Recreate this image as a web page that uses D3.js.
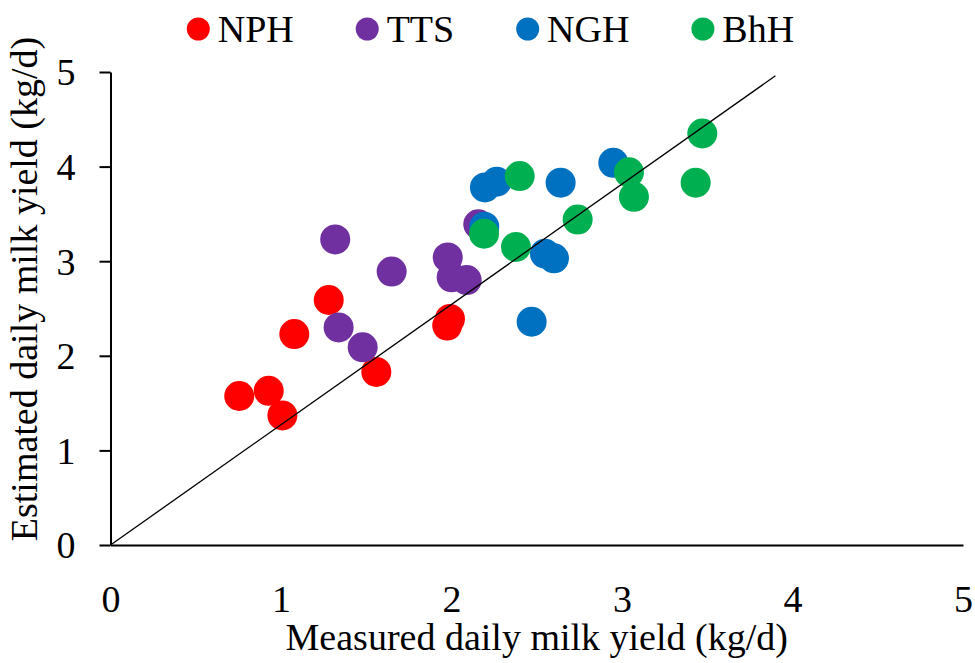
<!DOCTYPE html>
<html>
<head>
<meta charset="utf-8">
<script src="https://cdn.jsdelivr.net/npm/d3@7"></script>
<style>
  body { margin: 0; background: #fff; }
  text { font-family: "Liberation Serif", "Times New Roman", serif; fill: #000; }
</style>
</head>
<body>
<svg id="chart" width="975" height="663"></svg>
<script>
"use strict";

// groups and colours
const groups = ["NPH", "TTS", "NGH", "BhH"];
const colors = ["#FF0000", "#7030A0", "#0070C0", "#00B050"];

// measured (x) and estimated (y) milk yield, kg/d
const nphX = [0.755, 0.928, 1.008, 1.078, 1.280, 1.559, 1.991, 1.975];
const nphY = [1.575, 1.63, 1.37, 2.23, 2.59, 1.83, 2.39, 2.32];
const ttsX = [1.318, 1.649, 1.338, 1.479, 1.978, 2.001, 2.089, 2.157];
const ttsY = [3.23, 2.89, 2.30, 2.09, 3.04, 2.83, 2.80, 3.39];
const nghX = [2.192, 2.196, 2.265, 2.640, 2.949, 2.548, 2.601, 2.470];
const nghY = [3.365, 3.78, 3.84, 3.83, 4.04, 3.08, 3.03, 2.36];
const bhhX = [2.191, 2.400, 2.378, 2.740, 3.041, 3.070, 3.432, 3.471];
const bhhY = [3.29, 3.90, 3.15, 3.44, 3.94, 3.68, 3.83, 4.35];

// reference line end points
const lineX = [0, 3.9];
const lineY = [0, 4.96];

const xTicks = [0, 1, 2, 3, 4, 5];
const yTicks = [0, 1, 2, 3, 4, 5];

const seriesX = [nphX, ttsX, nghX, bhhX];
const seriesY = [nphY, ttsY, nghY, bhhY];

const margin = {top: 72, right: 12, bottom: 118, left: 110.5};
const width = 975 - margin.left - margin.right;   // 852.5
const height = 663 - margin.top - margin.bottom;  // 473

const svg = d3.select("#chart");
const g = svg.append("g")
    .attr("transform", "translate(" + margin.left + "," + margin.top + ")");

const xScale = d3.scaleLinear().domain([0, 5]).range([0, width]);
const yScale = d3.scaleLinear().domain([0, 5]).range([height, 0]);

// x axis: line only, no tick marks
const xAxis = g.append("g")
    .attr("transform", "translate(0," + height + ")")
    .call(d3.axisBottom(xScale).tickValues(xTicks).tickSize(0).tickPadding(40).tickFormat(d3.format("d")));
xAxis.select(".domain").attr("stroke", "#000").attr("stroke-width", 2);
xAxis.selectAll("text").style("font-size", "38px").style("font-family", "Liberation Serif");

// y axis
const yAxis = g.append("g")
    .call(d3.axisLeft(yScale).tickValues(yTicks).tickSizeInner(11).tickSizeOuter(0).tickPadding(24).tickFormat(d3.format("d")));
yAxis.select(".domain").attr("stroke", "#000").attr("stroke-width", 2);
yAxis.selectAll(".tick line").attr("stroke", "#000").attr("stroke-width", 2);
yAxis.selectAll("text").style("font-size", "38px").style("font-family", "Liberation Serif");
yAxis.selectAll(".tick text").attr("dy", "0.34em");

// points
groups.forEach((name, i) => {
    const pts = seriesX[i].map((x, j) => ({x: x, y: seriesY[i][j]}));
    g.selectAll(".dot-" + i)
        .data(pts)
        .enter().append("circle")
        .attr("class", "dot-" + i)
        .attr("cx", d => xScale(d.x))
        .attr("cy", d => yScale(d.y))
        .attr("r", 15)
        .attr("fill", colors[i]);
});

// reference line on top of the points
const line = d3.line().x(d => xScale(d[0])).y(d => yScale(d[1]));
g.append("path")
    .datum(lineX.map((x, i) => [x, lineY[i]]))
    .attr("d", line)
    .attr("fill", "none")
    .attr("stroke", "#000")
    .attr("stroke-width", 1.3);

// axis titles
svg.append("text")
    .attr("x", margin.left + width / 2)
    .attr("y", 650)
    .attr("text-anchor", "middle")
    .style("font-size", "38px")
    .text("Measured daily milk yield (kg/d)");

svg.append("text")
    .attr("transform", "translate(37,289) rotate(-90)")
    .attr("text-anchor", "middle")
    .style("font-size", "38px")
    .text("Estimated daily milk yield (kg/d)");

// legend
const legend = svg.append("g");
let lx = 198.3;
groups.forEach((name, i) => {
    legend.append("circle")
        .attr("cx", lx)
        .attr("cy", 29)
        .attr("r", 11.5)
        .attr("fill", colors[i]);
    const t = legend.append("text")
        .attr("x", lx + 19.4)
        .attr("y", 41.7)
        .style("font-size", "38px")
        .text(name);
    lx += 19.4 + t.node().getComputedTextLength() + 73.5;
});
</script>
</body>
</html>
